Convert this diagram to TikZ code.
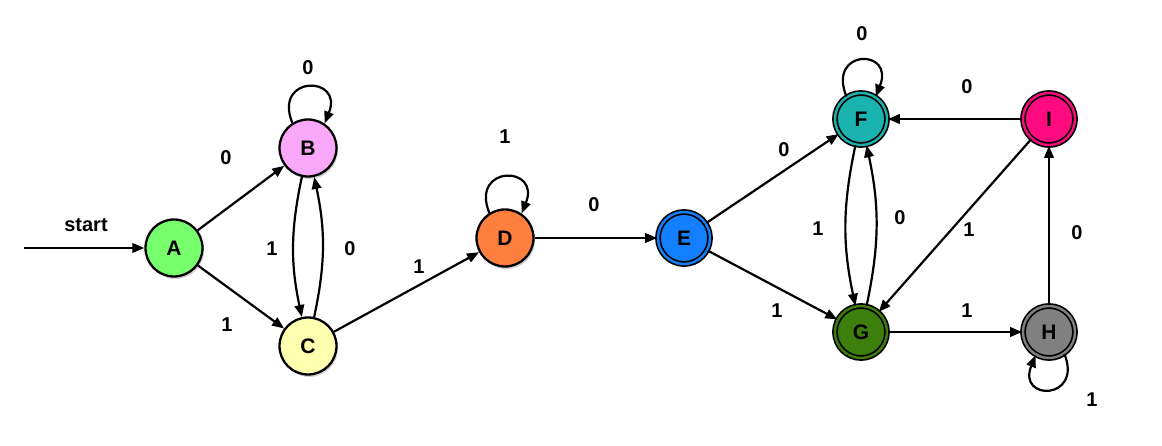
\documentclass[tikz,border=0pt]{standalone}
\usepackage{fontspec}
\setmainfont{Liberation Sans}
\usetikzlibrary{arrows.meta,shadows}
\definecolor{cA}{HTML}{77FF6E}
\definecolor{cB}{HTML}{F9A8F9}
\definecolor{cC}{HTML}{FFFFB0}
\definecolor{cD}{HTML}{FF7F3F}
\definecolor{cE}{HTML}{1480FF}
\definecolor{cF}{HTML}{1BB3B0}
\definecolor{cG}{HTML}{3D7F0C}
\definecolor{cH}{HTML}{808080}
\definecolor{cI}{HTML}{FF0A7F}
\tikzset{
  state/.style={circle, draw, line width=2.3pt, minimum size=57pt, inner sep=0pt,
    font=\fontsize{21}{24}\selectfont\bfseries,
    drop shadow={opacity=0.35, shadow xshift=1.5pt, shadow yshift=-2.5pt}},
  accept/.style={circle, draw, line width=1.7pt, double distance=2.4pt, minimum size=52pt, inner sep=0pt,
    font=\fontsize{21}{24}\selectfont\bfseries,
    drop shadow={opacity=0.35, shadow xshift=1.5pt, shadow yshift=-2.5pt}},
  lbl/.style={font=\fontsize{20}{23}\selectfont\bfseries, inner sep=0pt},
  arr/.style={line width=2.2pt, -{Triangle[length=12pt,width=9.5pt]}},
}
\begin{document}
\begin{tikzpicture}[x=1pt,y=1pt]
\useasboundingbox (0,0) rectangle (1162,446);
% nodes
\node[state, fill=cA] (A) at (174,198) {A};
\node[state, fill=cB] (B) at (308,298) {B};
\node[state, fill=cC] (C) at (308,100) {C};
\node[state, fill=cD] (D) at (505,208) {D};
\node[accept, fill=cE, double=cE] (E) at (684,208) {E};
\node[accept, fill=cF, double=cF] (F) at (861,327) {F};
\node[accept, fill=cG, double=cG] (G) at (861,114) {G};
\node[accept, fill=cH, double=cH] (H) at (1049,114) {H};
\node[accept, fill=cI, double=cI] (I) at (1049,327) {I};
\coordinate (S) at (24,198);
% edges
\draw[arr] (S) -- (A);
\draw[arr] (A) -- (B);
\draw[arr] (A) -- (C);
\draw[arr] (B) to[bend right=12] (C);
\draw[arr] (C) to[bend right=12] (B);
\draw[arr] (B.122) .. controls +(112:52) and +(68:52) .. (B.56);
\draw[arr] (C) -- (D);
\draw[arr] (D.122) .. controls +(112:52) and +(68:52) .. (D.56);
\draw[arr] (D) -- (E);
\draw[arr] (E) -- (F);
\draw[arr] (E) -- (G);
\draw[arr] (F.123) .. controls +(112:52) and +(68:52) .. (F.57);
\draw[arr] (F) to[bend right=12] (G);
\draw[arr] (G) to[bend right=12] (F);
\draw[arr] (I) -- (F);
\draw[arr] (I) -- (G);
\draw[arr] (G) -- (H);
\draw[arr] (H) -- (I);
\draw[arr] (H.-55) .. controls +(-68:50) and +(-112:50) .. (H.-120);
% labels
\node[lbl] (ls) at (86,221) {start};
\node[lbl] (l1) at (226,288) {0};
\node[lbl] (l2) at (227,121) {1};
\node[lbl] (l3) at (272,197) {1};
\node[lbl] (l4) at (350,197) {0};
\node[lbl] (l5) at (308,378) {0};
\node[lbl] (l6) at (419,179) {1};
\node[lbl] (l7) at (505,309) {1};
\node[lbl] (l8) at (594,241) {0};
\node[lbl] (l9) at (784,296) {0};
\node[lbl] (l10) at (777,135) {1};
\node[lbl] (l11) at (862,412) {0};
\node[lbl] (l12) at (818,217) {1};
\node[lbl] (l13) at (900,228) {0};
\node[lbl] (l14) at (967,359) {0};
\node[lbl] (l15) at (969,216) {1};
\node[lbl] (l16) at (1077,213) {0};
\node[lbl] (l17) at (967,135) {1};
\node[lbl] (l18) at (1092,46) {1};
\end{tikzpicture}
\end{document}
